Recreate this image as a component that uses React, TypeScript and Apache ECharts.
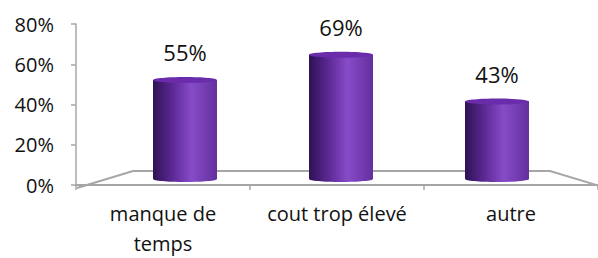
import React, { useEffect, useRef } from "react";
import * as echarts from "echarts";

const categories = ["manque de\ntemps", "cout trop élevé", "autre"];
const values = [55, 69, 43];
const yTicks = [0, 20, 40, 60, 80];

const FONT = "'Open Sans', sans-serif";
const GRAY = "#a6a6a6";

export default function App() {
  const ref = useRef<HTMLDivElement>(null);
  useEffect(() => {
    if (!ref.current) return;
    const chart = echarts.init(ref.current, null, { renderer: "svg" });
    const barW = 64;
    const ry = 3;
    const bodyGrad = () =>
      new echarts.graphic.LinearGradient(0, 0, 1, 0, [
        { offset: 0, color: "#2e1254" },
        { offset: 0.3, color: "#5c2894" },
        { offset: 0.6, color: "#874bc8" },
        { offset: 1, color: "#63309e" },
      ]);
    chart.setOption({
      animation: false,
      grid: [
        { left: 76, right: -7, top: 24, bottom: 70 },
        { left: 107, right: 23, top: 35, bottom: 79 },
      ],
      xAxis: [
        {
          type: "category",
          gridIndex: 0,
          data: categories,
          axisLine: { show: true, lineStyle: { color: GRAY, width: 2 } },
          axisTick: { show: true, length: 5, lineStyle: { color: GRAY, width: 1.5 } },
          axisLabel: {
            color: "#111",
            fontFamily: FONT,
            fontSize: 20,
            lineHeight: 30,
            margin: 13,
            interval: 0,
          },
        },
        { type: "category", gridIndex: 1, data: categories, show: false },
      ],
      yAxis: [
        {
          type: "value",
          gridIndex: 0,
          min: 0,
          max: 80,
          interval: 20,
          axisLine: { show: true, lineStyle: { color: GRAY, width: 1.5 } },
          axisTick: { show: true, length: 5, lineStyle: { color: GRAY, width: 1.5 } },
          splitLine: { show: false },
          axisLabel: {
            color: "#111",
            fontFamily: FONT,
            fontSize: 20,
            margin: 22,
            formatter: (v: number) => (yTicks.includes(v) ? v + "%" : ""),
          },
        },
        { type: "value", gridIndex: 1, min: 0, max: 80, show: false },
      ],
      graphic: [
        {
          type: "polyline",
          shape: {
            points: [
              [77, 188],
              [133, 171],
              [550, 171],
              [606, 188],
            ],
          },
          style: { stroke: GRAY, lineWidth: 2, fill: "none" },
          z: 1,
        },
      ],
      series: [
        {
          type: "custom",
          xAxisIndex: 1,
          yAxisIndex: 1,
          data: values.map((v, i) => [i, v]),
          z: 5,
          renderItem: (params: any, api: any) => {
            const i = api.value(0);
            const v = api.value(1);
            const base = api.coord([i, 0]);
            const top = api.coord([i, v]);
            const cx = base[0];
            const x0 = cx - barW / 2;
            return {
              type: "group",
              children: [
                {
                  type: "rect",
                  shape: { x: x0, y: top[1], width: barW, height: base[1] - top[1] },
                  style: { fill: bodyGrad() },
                },
                {
                  type: "ellipse",
                  shape: { cx, cy: base[1], rx: barW / 2, ry },
                  style: { fill: bodyGrad() },
                },
                {
                  type: "ellipse",
                  shape: { cx, cy: top[1], rx: barW / 2, ry },
                  style: { fill: "#6a2cab" },
                },
                {
                  type: "text",
                  style: {
                    text: v + "%",
                    x: cx,
                    y: top[1] - ry - 25,
                    align: "center",
                    verticalAlign: "middle",
                    fontFamily: FONT,
                    fontSize: 22,
                    fill: "#111",
                  },
                },
              ],
            };
          },
        },
      ],
    });
    return () => chart.dispose();
  }, []);
  return (
    <div
      ref={ref}
      style={{ position: "fixed", left: 0, top: 0, width: 598, height: 258, background: "#fff" }}
    />
  );
}
